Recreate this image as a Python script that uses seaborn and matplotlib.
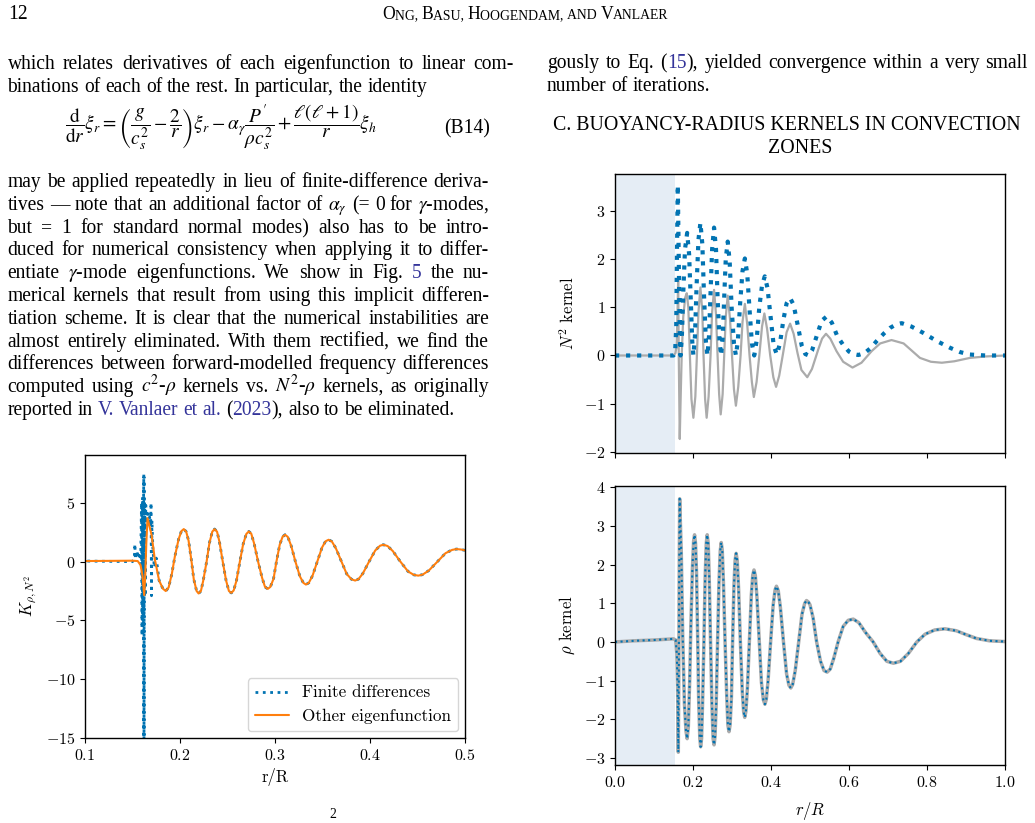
import re
import pandas as pd
import matplotlib
matplotlib.use('Agg')
import matplotlib.pyplot as plt
import seaborn as sns

# rho kernel (same curve in both figures)
rho_r = [0.000, 0.050, 0.100, 0.150, 0.1555, 0.1585, 0.1605, 0.1623, 0.1635, 0.1645,
         0.1658, 0.1700, 0.1735, 0.1780, 0.1820, 0.1850, 0.1880, 0.1915, 0.1945, 0.1985,
         0.2015, 0.2040, 0.2065, 0.2090, 0.2120, 0.2145, 0.2175, 0.2196, 0.2220, 0.2245,
         0.2280, 0.2310, 0.2340, 0.2364, 0.2390, 0.2415, 0.2450, 0.2485, 0.2515, 0.2540,
         0.2565, 0.2595, 0.2630, 0.2665, 0.2698, 0.2724, 0.2750, 0.2780, 0.2822, 0.2865,
         0.2895, 0.2923, 0.2951, 0.2985, 0.3015, 0.3050, 0.3080, 0.3106, 0.3135, 0.3170,
         0.3215, 0.3262, 0.3298, 0.3326, 0.3356, 0.3395, 0.3445, 0.3495, 0.3532, 0.3564,
         0.3598, 0.3640, 0.3700, 0.3755, 0.3805, 0.3844, 0.3880, 0.3925, 0.3990, 0.4055,
         0.4105, 0.4140, 0.4185, 0.4240, 0.4320, 0.4400, 0.4460, 0.4508, 0.4555, 0.4620,
         0.4710, 0.4795, 0.4865, 0.4911, 0.4960, 0.5000, 0.5080, 0.5170, 0.5270, 0.5360,
         0.5440, 0.5520, 0.5610, 0.5720, 0.5850, 0.5980, 0.6110, 0.6250, 0.6420, 0.6620,
         0.6800, 0.6970, 0.7140, 0.7320, 0.7520, 0.7740, 0.7950, 0.8200, 0.8460, 0.8750,
         0.9000, 0.9270, 0.9600, 1.0000]
rho_k = [0.00, 0.03, 0.05, 0.08, 0.05, -0.30, -1.20, -2.85, -1.00, 1.50,
         3.70, 2.30, 0.20, -1.60, -2.30, -2.50, -2.20, -1.00, 0.40, 1.90,
         2.60, 2.77, 2.55, 1.80, 0.10, -1.50, -2.50, -2.71, -2.50, -1.60,
         0.00, 1.60, 2.55, 2.77, 2.55, 1.70, 0.00, -1.60, -2.50, -2.66,
         -2.45, -1.60, 0.00, 1.50, 2.35, 2.57, 2.38, 1.55, 0.00, -1.40,
         -2.15, -2.32, -2.15, -1.45, 0.00, 1.45, 2.12, 2.29, 2.10, 1.35,
         0.00, -1.25, -1.80, -1.95, -1.80, -1.20, 0.00, 1.20, 1.73, 1.86,
         1.72, 1.15, 0.00, -1.05, -1.50, -1.61, -1.48, -1.00, 0.00, 0.95,
         1.35, 1.44, 1.33, 0.90, 0.00, -0.83, -1.12, -1.19, -1.10, -0.75,
         0.00, 0.72, 1.00, 1.07, 1.03, 0.96, 0.62, 0.00, -0.50, -0.74,
         -0.78, -0.70, -0.42, 0.00, 0.40, 0.56, 0.59, 0.50, 0.25, 0.00,
         -0.30, -0.50, -0.55, -0.50, -0.30, 0.00, 0.20, 0.31, 0.34, 0.29,
         0.19, 0.09, 0.03, 0.01]

# finite-difference kernel where it departs from the rho kernel
fd_r = [0.1500, 0.1520, 0.1525, 0.1530, 0.1545, 0.1560, 0.1575, 0.1585, 0.1595, 0.1600,
        0.1605, 0.1610, 0.1615, 0.1619, 0.1619, 0.1619, 0.1620, 0.1620, 0.1620, 0.1620,
        0.1620, 0.1621, 0.1621, 0.1621, 0.1621, 0.1623,
        0.1630, 0.1635, 0.1640, 0.1650, 0.1660, 0.1670, 0.1680, 0.1690, 0.1695, 0.1700,
        0.1705, 0.1715, 0.1730, 0.1750]
fd_k = [0.00, 0.30, 1.50, 0.20, 0.90, 0.30, 0.80, -0.20, 5.00, -6.30,
        5.50, -5.00, 4.20, 7.40, -15.5, 7.30, -15.3, 7.10, -15.6, 6.90,
        -15.4, 7.20, -15.2, 6.80, -15.5, 5.00,
        4.40, -2.90, 4.80, 3.20, 4.10, 3.00, 3.80, 3.00, 5.00, -2.90,
        3.50, 1.00, -0.50, 0.30]

# N^2 kernel, dotted blue
n2_r = [0.000, 0.100, 0.150, 0.154, 0.157, 0.159, 0.161, 0.1635, 0.166, 0.168,
        0.1715, 0.175, 0.1795, 0.185, 0.190, 0.1945, 0.198, 0.201, 0.205, 0.209,
        0.214, 0.219, 0.224, 0.228, 0.233, 0.237, 0.241, 0.245, 0.249, 0.254,
        0.259, 0.263, 0.268, 0.272, 0.276, 0.280, 0.284, 0.289, 0.294, 0.299,
        0.305, 0.310, 0.315, 0.321, 0.327, 0.333, 0.339, 0.345, 0.351, 0.357,
        0.363, 0.370, 0.377, 0.384, 0.391, 0.399, 0.407, 0.415, 0.423, 0.432,
        0.440, 0.449, 0.458, 0.468, 0.479, 0.488, 0.497, 0.505, 0.517, 0.530,
        0.543, 0.556, 0.570, 0.585, 0.600, 0.612, 0.624, 0.640, 0.655, 0.671,
        0.690, 0.705, 0.720, 0.735, 0.760, 0.790, 0.825, 0.859, 0.885, 0.910,
        0.950, 1.000]
n2_k = [0.00, 0.00, 0.00, 0.05, 0.60, 2.20, 3.53, 2.00, 0.40, 0.00,
        0.40, 1.30, 2.20, 2.54, 2.10, 1.10, 0.30, 0.00, 0.40, 1.40,
        2.40, 2.75, 2.30, 1.30, 0.30, 0.00, 0.40, 1.30, 2.20, 2.65,
        2.20, 1.20, 0.30, 0.00, 0.35, 1.20, 2.00, 2.36, 1.95, 1.00,
        0.25, 0.00, 0.30, 1.10, 1.75, 2.01, 1.70, 0.95, 0.25, 0.00,
        0.30, 1.00, 1.45, 1.64, 1.40, 0.80, 0.20, 0.02, 0.25, 0.75,
        1.08, 1.19, 1.05, 0.65, 0.20, 0.03, 0.00, 0.10, 0.40, 0.72,
        0.81, 0.68, 0.40, 0.22, 0.08, 0.03, 0.01, 0.05, 0.15, 0.30,
        0.46, 0.57, 0.64, 0.67, 0.60, 0.47, 0.30, 0.16, 0.07, 0.02,
        0.00, 0.00]

# N^2 kernel, grey solid
n2_alt_r = [0.000, 0.150, 0.155, 0.158, 0.160, 0.162, 0.1635, 0.166, 0.168, 0.171,
            0.175, 0.180, 0.184, 0.188, 0.192, 0.196, 0.201, 0.206, 0.210, 0.214,
            0.219, 0.224, 0.227, 0.231, 0.235, 0.240, 0.245, 0.249, 0.254, 0.259,
            0.263, 0.267, 0.271, 0.276, 0.280, 0.284, 0.289, 0.295, 0.300, 0.305,
            0.310, 0.316, 0.322, 0.327, 0.333, 0.339, 0.345, 0.351, 0.356, 0.363,
            0.370, 0.377, 0.383, 0.390, 0.398, 0.406, 0.413, 0.421, 0.430, 0.440,
            0.449, 0.458, 0.468, 0.478, 0.493, 0.505, 0.521, 0.531, 0.541, 0.552,
            0.568, 0.585, 0.609, 0.632, 0.658, 0.680, 0.709, 0.740, 0.782, 0.810,
            0.838, 0.870, 0.910, 0.950, 1.000]
n2_alt_k = [0.00, 0.00, 0.05, 0.20, 0.80, 1.57, 0.00, -1.73, -1.00, 0.00,
            0.80, 1.20, 1.29, 1.00, 0.00, -0.90, -1.29, -0.85, 0.00, 0.90,
            1.41, 0.90, 0.00, -0.90, -1.29, -0.85, 0.00, 0.90, 1.36, 0.85,
            0.00, -0.80, -1.22, -0.80, 0.00, 0.80, 1.24, 0.75, 0.00, -0.70,
            -1.04, -0.65, 0.00, 0.70, 1.07, 0.65, 0.00, -0.55, -0.86, -0.55,
            0.00, 0.60, 0.87, 0.55, 0.00, -0.45, -0.65, -0.42, 0.00, 0.48,
            0.66, 0.45, 0.05, -0.30, -0.45, -0.28, 0.12, 0.35, 0.45, 0.35,
            0.09, -0.13, -0.25, -0.15, 0.09, 0.25, 0.32, 0.25, -0.05, -0.13,
            -0.15, -0.12, -0.05, -0.02, 0.00]

convective_edge = 0.154

left_xticks = [0.1, 0.2, 0.3, 0.4, 0.5]
left_yticks = [-15, -10, -5, 0, 5]
top_yticks = [-2, -1, 0, 1, 2, 3]
bottom_yticks = [-3, -2, -1, 0, 1, 2, 3, 4]
right_xticks = [0.0, 0.2, 0.4, 0.6, 0.8, 1.0]

para1 = ["which relates derivatives of each eigenfunction to linear com-",
         "binations of each of the rest. In particular, the identity"]
para2 = ["may be applied repeatedly in lieu of finite-difference deriva-",
         r"tives — note that an additional factor of $\alpha_\gamma$ (= 0 for $\gamma$-modes,",
         "but = 1 for standard normal modes) also has to be intro-",
         "duced for numerical consistency when applying it to differ-",
         r"entiate $\gamma$-mode eigenfunctions. We show in Fig. @5@ the nu-",
         "merical kernels that result from using this implicit differen-",
         "tiation scheme. It is clear that the numerical instabilities are",
         "almost entirely eliminated. With them rectified, we find the",
         "differences between forward-modelled frequency differences",
         r"computed using $c^2$-$\rho$ kernels vs. $N^2$-$\rho$ kernels, as originally",
         "reported in @V. Vanlaer et al.@ (@2023@), also to be eliminated."]
para3 = ["gously to Eq. (@15@), yielded convergence within a very small",
         "number of iterations."]
running_head = [('O', 1), ('NG, ', .78), ('B', 1), ('ASU, ', .78), ('H', 1),
                ('OOGENDAM, ', .78), ('AND ', .78), ('V', 1), ('ANLAER', .78)]

BLUE = '#0173B2'
ORANGE = '#FF7F0E'
GREY = '#ababab'
SHADE = '#e5edf5'
LINK = '#34349a'
SERIF = 'Liberation Serif'

sns.set_style('ticks')
plt.rcParams.update({
    'font.family': ['cmr10'],
    'mathtext.fontset': 'cm',
    'axes.formatter.use_mathtext': True,
    'axes.edgecolor': 'black',
    'axes.labelcolor': 'black',
    'text.color': 'black',
    'xtick.color': 'black',
    'ytick.color': 'black',
    'axes.linewidth': 1.0,
})

W, H = 1035, 823
fig = plt.figure(figsize=(W / 100, H / 100), dpi=100)
renderer = fig.canvas.get_renderer()


def text_px(x, y, s, **kw):
    kw.setdefault('family', SERIF)
    kw.setdefault('math_fontfamily', 'stix')
    return fig.text(x / W, 1 - y / H, s, **kw)


def width_of(t):
    return t.get_window_extent(renderer).width


def fit_size(s, width):
    t = text_px(0, 0, s, fontsize=10)
    w = width_of(t)
    t.remove()
    return 10 * width / w


def draw_line(line, x0, y, size, x1=None):
    # words may contain @...@ parts that are coloured as links
    words, link = [], False
    for w in line.split(' '):
        if not w:
            continue
        segs = []
        for part in re.split('(@)', w):
            if part == '@':
                link = not link
            elif part:
                segs.append((part, LINK if link else 'black'))
        words.append(segs)
    placed, widths = [], []
    for segs in words:
        ts = []
        for s, c in segs:
            t = text_px(0, round(y), s, fontsize=size, color=c, va='baseline')
            ts.append((t, width_of(t)))
        placed.append(ts)
        widths.append(sum(w for _, w in ts))
    gap = 0.25 * size * 100 / 72
    if x1 is not None:
        gap = max((x1 - x0 - sum(widths)) / (len(words) - 1), 0.15 * size * 100 / 72)
    x = x0
    for ts in placed:
        for t, w in ts:
            t.set_x(x / W)
            x += w
        x += gap


body = fit_size(para2[8], 476)

# page header, small caps built from two sizes
text_px(8, 19, '12', fontsize=body, va='baseline')
probe = [text_px(0, 0, s, fontsize=body * f) for s, f in running_head]
head_scale = 288 / sum(width_of(t) for t in probe)
for t in probe:
    t.remove()
x = 382
for s, f in running_head:
    t = text_px(x, 19, s, fontsize=body * f * head_scale, va='baseline')
    x += width_of(t)

# left column text
draw_line(para1[0], 7.5, 69, body, 514)
draw_line(para1[1], 7.5, 92, body)
eq = (r'$\dfrac{\mathrm{d}}{\mathrm{d}r}\xi_r=\left(\dfrac{g}{c_s^2}-\dfrac{2}{r}\right)\xi_r'
      r'-\alpha_\gamma\dfrac{P^\prime}{\rho c_s^2}+\dfrac{\ell(\ell+1)}{r}\xi_h$')
eq_size = min(fit_size(eq, 312), body * 1.05)
text_px(221, 127, eq, fontsize=eq_size, ha='center', va='center')
text_px(490, 133, '(B14)', fontsize=body, ha='right', va='baseline')
for i, line in enumerate(para2):
    last = i == len(para2) - 1
    draw_line(line, 7.5, 187 + 22.8 * i, body, None if last else 489)

# right column text
draw_line(para3[0], 547, 68, body, 1028)
draw_line(para3[1], 547, 91, body)
hsize = fit_size('C. BUOYANCY-RADIUS KERNELS IN CONVECTION', 467)
text_px(786.5, 130, 'C. BUOYANCY-RADIUS KERNELS IN CONVECTION', fontsize=hsize,
        ha='center', va='baseline')
text_px(800, 153, 'ZONES', fontsize=hsize, ha='center', va='baseline')
text_px(329, 821, '2', fontsize=body * 0.7, va='bottom')


def px_axes(x0, y0, x1, y1):
    return fig.add_axes([x0 / W, 1 - y1 / H, (x1 - x0) / W, (y1 - y0) / H])


rho = pd.DataFrame({'r': rho_r, 'k': rho_k})
fd = pd.concat([rho[rho.r < 0.15], pd.DataFrame({'r': fd_r, 'k': fd_k}),
                rho[rho.r > 0.1775]], ignore_index=True)
n2 = pd.DataFrame({'r': n2_r, 'k': n2_k})
n2_alt = pd.DataFrame({'r': n2_alt_r, 'k': n2_alt_k})

# left figure: K_{rho,N^2}
ax1 = px_axes(85, 455, 465, 738)
sns.lineplot(data=fd, x='r', y='k', ax=ax1, sort=False, estimator=None,
             color=BLUE, linestyle=':', linewidth=2, label='Finite differences')
sns.lineplot(data=rho, x='r', y='k', ax=ax1, sort=False, estimator=None,
             color=ORANGE, linewidth=1.5, label='Other eigenfunction')
ax1.set_xlim(0.1, 0.5)
ax1.set_ylim(-15, 9.07)
ax1.set_xticks(left_xticks)
ax1.set_yticks(left_yticks)
ax1.set_xlabel('r/R', fontsize=12)
ax1.set_ylabel(r'$K_{\rho,N^2}$', fontsize=12)
ax1.tick_params(labelsize=11.5)
ax1.xaxis.set_label_coords(0.5, -0.105)
ax1.yaxis.set_label_coords(-0.12, 0.5)
ax1.legend(loc='lower right', fontsize=12.3, frameon=True, fancybox=True,
           framealpha=0.8, edgecolor='0.8', borderaxespad=0.4)

# right figure, top: N^2 kernel
ax2 = px_axes(615, 174, 1005, 453)
ax2.axvspan(0, convective_edge, color=SHADE, lw=0, zorder=0)
sns.lineplot(data=n2_alt, x='r', y='k', ax=ax2, sort=False, estimator=None,
             color=GREY, linewidth=1.6)
sns.lineplot(data=n2, x='r', y='k', ax=ax2, sort=False, estimator=None,
             color=BLUE, linestyle=':', linewidth=3)
ax2.set_xlim(0, 1)
ax2.set_ylim(-2.02, 3.76)
ax2.set_xticks(right_xticks)
ax2.set_yticks(top_yticks)
ax2.tick_params(labelbottom=False, labelsize=11.5)
ax2.set_xlabel('')
ax2.set_ylabel(r'$N^2$ kernel', fontsize=12)
ax2.yaxis.set_label_coords(-0.097, 0.5)

# right figure, bottom: rho kernel
ax3 = px_axes(615, 486, 1005, 765)
ax3.axvspan(0, convective_edge, color=SHADE, lw=0, zorder=0)
sns.lineplot(data=rho, x='r', y='k', ax=ax3, sort=False, estimator=None,
             color=GREY, linewidth=2.5)
sns.lineplot(data=rho, x='r', y='k', ax=ax3, sort=False, estimator=None,
             color=BLUE, linestyle=':', linewidth=1.5)
ax3.set_xlim(0, 1)
ax3.set_ylim(-3.18, 4.03)
ax3.set_xticks(right_xticks)
ax3.set_yticks(bottom_yticks)
ax3.tick_params(labelsize=11.5)
ax3.set_xlabel(r'$r/R$', fontsize=12)
ax3.set_ylabel(r'$\rho$ kernel', fontsize=12)
ax3.xaxis.set_label_coords(0.5, -0.125)
ax3.yaxis.set_label_coords(-0.097, 0.5)

fig.savefig('out.png', dpi=100)
